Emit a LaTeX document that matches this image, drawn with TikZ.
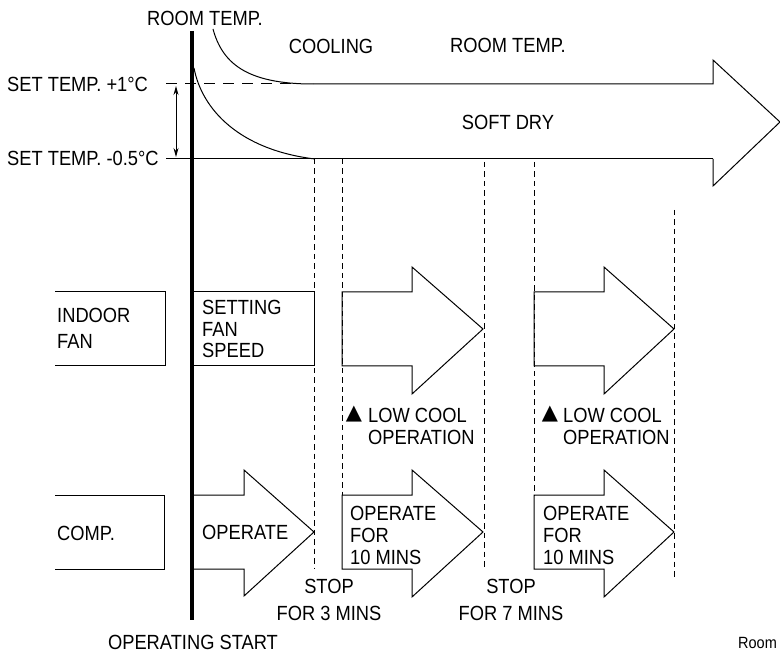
\documentclass[tikz,border=0pt]{standalone}
\usepackage{fontspec}
\setmainfont{Liberation Sans}
\newfontfamily\symfont{DejaVu Sans}
\usetikzlibrary{arrows.meta}
\begin{document}
\begin{tikzpicture}[x=1pt,y=-1pt,
  line/.style={line width=1pt,line join=miter},
  guide/.style={line width=0.9pt,dash pattern=on 5.5pt off 4pt},
  lbl/.style={inner sep=0pt,yscale=1.12,font=\fontsize{18.3}{19.2}\selectfont},
  lblw/.style={lbl,anchor=west,align=left},
  tri/.style={inner sep=0pt,font=\symfont\fontsize{21}{21}\selectfont}]
\useasboundingbox[fill=white] (0,0) rectangle (780,655);

% main time axis
\draw[line width=4pt] (192,31) coordinate (axtop) -- (192,620) coordinate (axbot);

% reference temperature lines
\coordinate (ptop) at (166,84);
\coordinate (pbot) at (166,159);
\draw[line,dash pattern=on 11pt off 8pt] (ptop) -- (300,84);
\draw[line] (pbot) -- (713,159);
\draw[line width=0.9pt,{Stealth[length=9pt,width=5pt]}-{Stealth[length=9pt,width=5pt]}] (176,86) coordinate (da) -- (176,157) coordinate (db);

% room temperature curves
\draw[line] (213,29) .. controls (222,62) and (245,84) .. (313,84);
\draw[line] (194,68) .. controls (202,110) and (240,150) .. (315,159);

% big arrow
\draw[line] (313,84) -- (713,84) -- (713,60) -- (780,122) -- (713,186) -- (713,159);

% dashed time marks
\draw[guide] (314,159) -- (314,568);
\draw[guide] (342,159) -- (342,495);
\draw[guide] (484,162) -- (484,570);
\draw[guide] (534,162) -- (534,495);
\draw[guide] (674,210) -- (674,580);

% indoor fan row
\draw[line] (55,292) -- (165,292) -- (165,366) -- (55,366);
\draw[line] (193,292) -- (314,292) -- (314,366) -- (193,366);
\draw[line] (342,292) -- (412,292) -- (412,267) -- (483,329) -- (412,394) -- (412,366) -- (342,366) -- cycle;
\draw[line] (534,292) -- (604,292) -- (604,267) -- (674,329) -- (604,394) -- (604,366) -- (534,366) -- cycle;

% compressor row
\draw[line] (55,495) -- (164,495) -- (164,569) -- (55,569);
\draw[line] (193,495) -- (244,495) -- (244,470) -- (314,532) -- (244,596) -- (244,569) -- (193,569);
\draw[line] (342,495) -- (412,495) -- (412,470) -- (483,532) -- (412,597) -- (412,569) -- (342,569) -- cycle;
\draw[line] (534,495) -- (604,495) -- (604,470) -- (674,532) -- (604,597) -- (604,569) -- (534,569) -- cycle;

% texts
\node[lbl] (rt1) at (205,18) {ROOM TEMP.};
\node[lbl] (cool) at (331,46) {COOLING};
\node[lbl] (rt2) at (508,45) {ROOM TEMP.};
\node[lbl] (dry) at (508,122) {SOFT DRY};
\node[lblw] (sp1) at (7,84) {SET TEMP. +1°C};
\node[lblw] (sp2) at (7,158) {SET TEMP. -0.5°C};
\node[lblw,font=\fontsize{18.3}{23.2}\selectfont] (fan) at (57,328) {INDOOR\\FAN};
\node[lblw] (fset) at (202,329) {SETTING\\FAN\\SPEED};
\node[tri] (t1) at (354,414) {▲};
\node[lblw,font=\fontsize{18.3}{19.6}\selectfont] (lc1) at (368,426) {LOW COOL\\OPERATION};
\node[tri] (t2) at (550,414) {▲};
\node[lblw,font=\fontsize{18.3}{19.6}\selectfont] (lc2) at (563,426) {LOW COOL\\OPERATION};
\node[lblw] (comp) at (57,533) {COMP.};
\node[lblw] (op0) at (202,532) {OPERATE};
\node[lblw,font=\fontsize{18.3}{19.6}\selectfont] (op1) at (350,535) {OPERATE\\FOR\\10 MINS};
\node[lblw,font=\fontsize{18.3}{19.6}\selectfont] (op2) at (543,535) {OPERATE\\FOR\\10 MINS};
\node[lbl,align=center,font=\fontsize{18.3}{24.1}\selectfont] (st1) at (329,600) {STOP\\FOR 3 MINS};
\node[lbl,align=center,font=\fontsize{18.3}{24.1}\selectfont] (st2) at (511,600) {STOP\\FOR 7 MINS};
\node[lbl] (start) at (193,642) {OPERATING START};
\node[lbl,anchor=west,font=\fontsize{14.5}{16}\selectfont] (room) at (738,643) {Room};
\end{tikzpicture}
\end{document}
